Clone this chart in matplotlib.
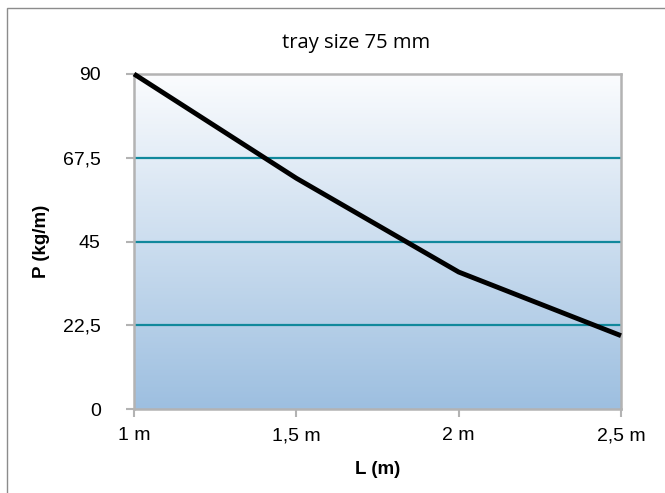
import numpy as np
import matplotlib.pyplot as plt
from matplotlib.colors import LinearSegmentedColormap
from matplotlib.patches import Rectangle

# data
lengths = [1.0, 1.5, 2.0, 2.5]
loads = [90, 62, 36.8, 19.7]
x_ticks = [1.0, 1.5, 2.0, 2.5]
x_labels = ['1 m', '1,5 m', '2 m', '2,5 m']
y_ticks = [0, 22.5, 45, 67.5, 90]
y_labels = ['0', '22,5', '45', '67,5', '90']

W, H = 665, 493
fig = plt.figure(figsize=(W / 100, H / 100), dpi=100)
fig.patch.set_facecolor('white')

# outer chart border (cropped at right/bottom in the reference)
fig.patches.append(Rectangle((7 / W, -0.05), 1.2, 1 - 8 / H + 0.05,
                             transform=fig.transFigure, fill=False,
                             edgecolor='#8c8c8c', linewidth=1.0))

left, right, top, bottom = 134, 621, 74, 409
ax = fig.add_axes([left / W, 1 - bottom / H, (right - left) / W, (bottom - top) / H])

# gradient background
cmap = LinearSegmentedColormap.from_list('bg', ['#9dbfe0', '#fbfcfe'])
grad = np.linspace(0, 1, 256).reshape(-1, 1)
ax.imshow(grad, aspect='auto', cmap=cmap, origin='lower',
          extent=[0, 1, 0, 1], transform=ax.transAxes, zorder=0)

for yv in y_ticks[1:-1]:
    ax.axhline(yv, color='#11889c', linewidth=1.6, zorder=1)

ax.plot(lengths, loads, color='black', linewidth=3.5, zorder=3,
        solid_capstyle='butt', clip_on=False)

ax.set_xlim(1.0, 2.5)
ax.set_ylim(0, 90)
ax.set_xticks(x_ticks)
ax.set_xticklabels(x_labels)
ax.set_yticks(y_ticks)
ax.set_yticklabels(y_labels)

for s in ax.spines.values():
    s.set_color('#b3b3b3')
    s.set_linewidth(1.8)

ax.tick_params(axis='both', colors='#b3b3b3', length=6, width=1.5,
               labelcolor='black', labelsize=14)
for lab in ax.get_xticklabels() + ax.get_yticklabels():
    lab.set_family('Liberation Sans')
ax.tick_params(axis='x', pad=7)
ax.tick_params(axis='y', pad=18)

ax.set_xlabel('L (m)', fontsize=13.5, fontweight='bold',
              family='Liberation Sans', va='center')
ax.xaxis.set_label_coords(0.5, (bottom - 470) / (bottom - top))
ax.set_ylabel('P (kg/m)', fontsize=13.5, fontweight='bold',
              family='Liberation Sans', va='center')
ax.yaxis.set_label_coords((42 - left) / (right - left), 0.5)

fig.text(356 / W, 1 - 43 / H, 'tray size 75 mm', ha='center', va='center',
         fontsize=14.5, family='Open Sans')

fig.savefig('out.png', dpi=100)
